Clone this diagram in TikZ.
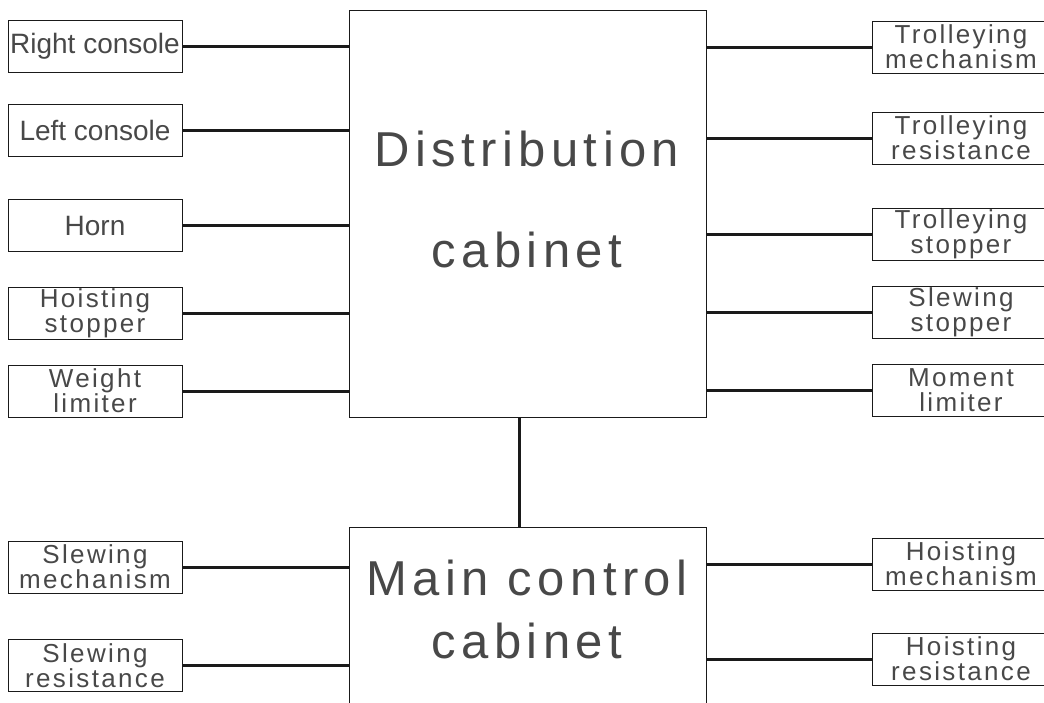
\documentclass[tikz,border=0pt]{standalone}
\usepackage{fontspec}
\setmainfont{Liberation Sans}
\newfontfamily\boxfont{Liberation Sans}[LetterSpace=0]
\newfontfamily\pairfont{Liberation Sans}[LetterSpace=9]
\newfontfamily\cabfont{Liberation Sans}[LetterSpace=11]
\usetikzlibrary{positioning}
\definecolor{ink}{HTML}{1A1A1A}

\begin{document}
\begin{tikzpicture}[
  x=1pt,y=-1pt,
  text=ink!80,
  cabinet/.style={draw=ink,line width=1pt,minimum width=357pt,inner sep=0pt},
  unit/.style={draw=ink,line width=1pt,minimum width=174pt,minimum height=52pt,inner sep=0pt,align=center,font={\fontsize{28}{30}\boxfont}},
  unitpair/.style={unit,font={\fontsize{26}{25}\pairfont}},
  farunit/.style={unitpair,minimum width=178pt},
  cablabel/.style={align=center,inner sep=0pt},
  wire/.style={line width=3pt,ink}
]
  \useasboundingbox (0,0) rectangle (1044,702);

  % cabinets
  \node[cabinet,minimum height=407pt] (dist) at (527.5,213.5) {};
  \node[cabinet,minimum height=263pt] (main) at (527.5,658.5) {};
  \node[cablabel,font={\fontsize{49}{101}\cabfont}] (distlabel) at (527,199) {Distribution\\cabinet};
  \node[cablabel,font={\fontsize{49}{63}\cabfont}] (mainlabel) at (527,609) {Main control\\cabinet};

  % left side
  \node[unit] (rcons) at (95,46.5) {Right console};
  \node[unit] (lcons) at (95,130) {Left console};
  \node[unit] (horn) at (95,225.5) {Horn};
  \node[unitpair] (hstop) at (95,313) {Hoisting\\stopper};
  \node[unitpair] (wlim) at (95,391) {Weight\\limiter};
  \node[unitpair] (smech) at (95,567) {Slewing\\mechanism};
  \node[unitpair] (sres) at (95,665.5) {Slewing\\resistance};

  % right side
  \node[farunit] (tmech) at (961,47) {Trolleying\\mechanism};
  \node[farunit] (tres) at (961,138) {Trolleying\\resistance};
  \node[farunit] (tstop) at (961,234) {Trolleying\\stopper};
  \node[farunit] (sstop) at (961,312.5) {Slewing\\stopper};
  \node[farunit] (mlim) at (961,390.5) {Moment\\limiter};
  \node[farunit] (hmech) at (961,564) {Hoisting\\mechanism};
  \node[farunit] (hres) at (961,659) {Hoisting\\resistance};

  \draw[wire] (rcons.east) -- (rcons.east -| dist.west);
  \draw[wire] (lcons.east) -- (lcons.east -| dist.west);
  \draw[wire] (horn.east) -- (horn.east -| dist.west);
  \draw[wire] (hstop.east) -- (hstop.east -| dist.west);
  \draw[wire] (wlim.east) -- (wlim.east -| dist.west);
  \draw[wire] (smech.east) -- (smech.east -| main.west);
  \draw[wire] (sres.east) -- (sres.east -| main.west);

  \draw[wire] (tmech.west) -- (tmech.west -| dist.east);
  \draw[wire] (tres.west) -- (tres.west -| dist.east);
  \draw[wire] (tstop.west) -- (tstop.west -| dist.east);
  \draw[wire] (sstop.west) -- (sstop.west -| dist.east);
  \draw[wire] (mlim.west) -- (mlim.west -| dist.east);
  \draw[wire] (hmech.west) -- (hmech.west -| main.east);
  \draw[wire] (hres.west) -- (hres.west -| main.east);

  \coordinate (tap) at (519,417);
  \draw[wire] (tap) -- (tap |- main.north);
\end{tikzpicture}
\end{document}
